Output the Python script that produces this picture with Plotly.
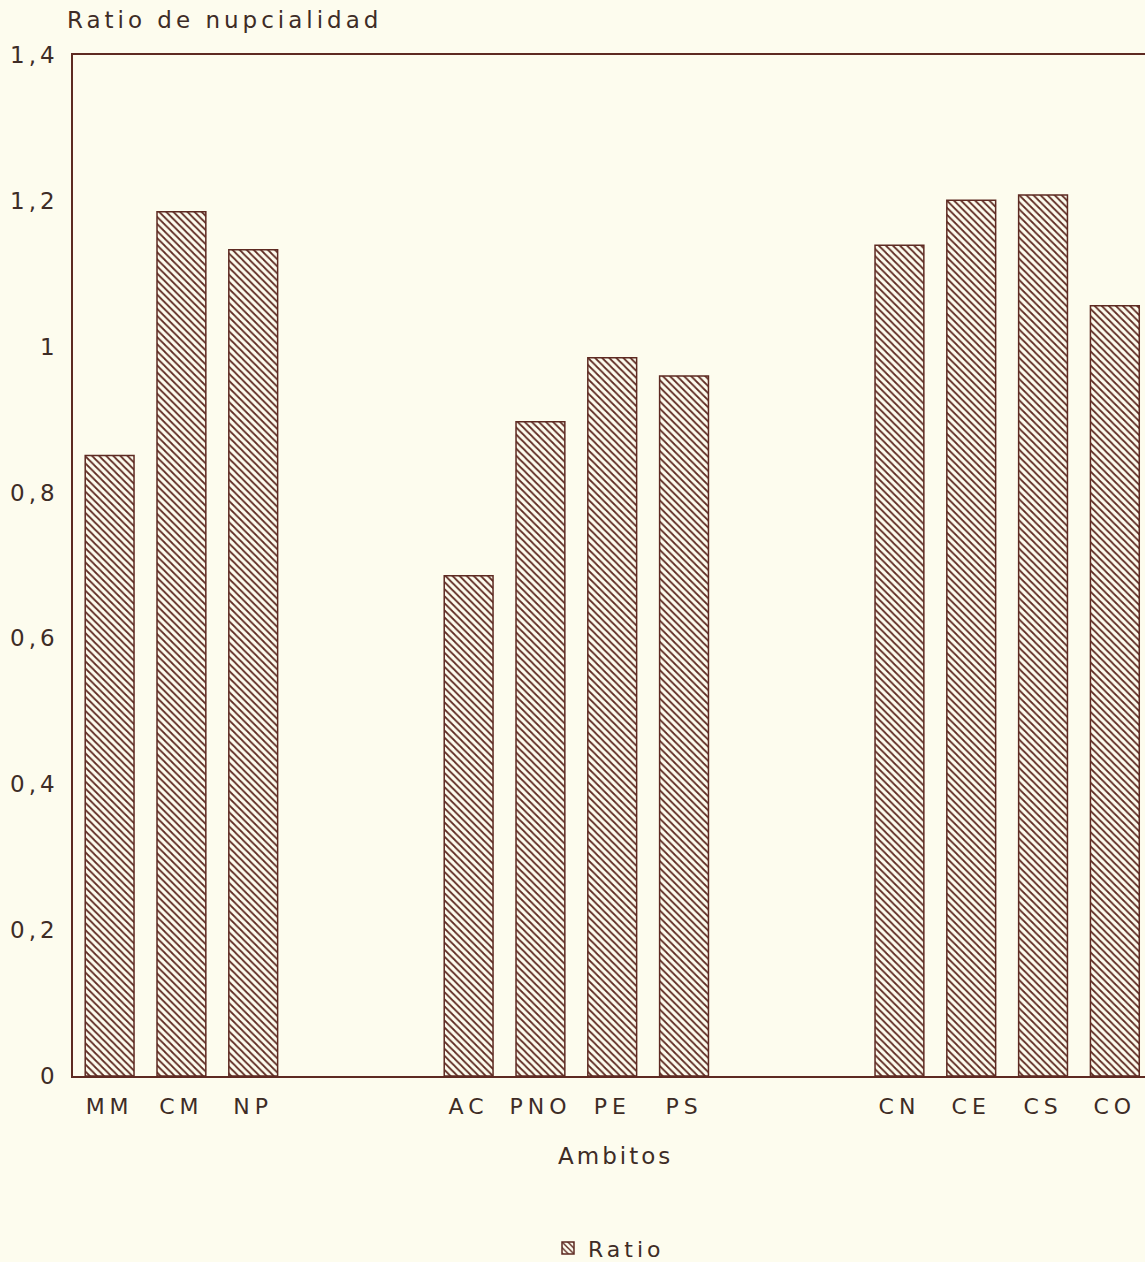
import plotly.graph_objects as go

# ambitos, grouped as in the original figure
grupo_1 = ["MM", "CM", "NP"]
grupo_2 = ["AC", "PNO", "PE", "PS"]
grupo_3 = ["CN", "CE", "CS", "CO"]

ratio_1 = [0.851, 1.185, 1.133]
ratio_2 = [0.686, 0.897, 0.985, 0.960]
ratio_3 = [1.139, 1.201, 1.208, 1.056]

y_ticks = [0, 0.2, 0.4, 0.6, 0.8, 1, 1.2, 1.4]
y_labels = ["0", "0,2", "0,4", "0,6", "0,8", "1", "1,2", "1,4"]

# two empty slots between groups
gap = 2
ambitos, ratios, pos = [], [], []
x = 0
for grupo, vals in [(grupo_1, ratio_1), (grupo_2, ratio_2), (grupo_3, ratio_3)]:
    for a, v in zip(grupo, vals):
        ambitos.append(a)
        ratios.append(v)
        pos.append(x)
        x += 1
    x += gap

brown = "#5e2a22"
cream = "#fdfcee"
txt = "#3e2c26"
font = "DejaVu Sans"


def spaced(s, px=3):
    return '<span style="letter-spacing:%dpx">%s</span>' % (px, s)


fig = go.Figure()
fig.add_trace(go.Bar(
    x=pos, y=ratios, name=spaced("Ratio", 4), width=0.68,
    marker=dict(color=cream, line=dict(color=brown, width=1.5),
                pattern=dict(shape="\\", fgcolor=brown, bgcolor=cream,
                             size=5, solidity=0.35, fillmode="replace")),
))

fig.update_layout(
    width=1145, height=1262,
    margin=dict(l=73, r=0, t=55, b=186),
    paper_bgcolor=cream, plot_bgcolor=cream,
    font=dict(family=font, size=21, color=txt),
    showlegend=True,
    legend=dict(orientation="h", x=0.5, xanchor="center",
                yref="container", y=0.011, yanchor="middle",
                font=dict(size=22, color=txt), bgcolor="rgba(0,0,0,0)"),
)
fig.update_xaxes(
    range=[-0.51, 14.42], tickvals=pos, ticktext=[spaced(a, 5) for a in ambitos],
    showline=True, linecolor=brown, linewidth=1.5, mirror=True,
    showgrid=False, zeroline=False, ticks="", ticklabelstandoff=10,
    tickfont=dict(size=22, color=txt),
)
fig.update_yaxes(
    range=[0, 1.4], tickvals=y_ticks, ticktext=[spaced(t, 4) for t in y_labels],
    showline=True, linecolor=brown, linewidth=1.5, mirror=False,
    showgrid=False, zeroline=False, ticks="", ticklabelstandoff=8,
    tickfont=dict(size=23, color=txt),
)

fig.add_annotation(text=spaced("Ratio de nupcialidad", 4), xref="paper", yref="paper",
                   x=-0.0075, y=1.034, xanchor="left", yanchor="middle",
                   showarrow=False, font=dict(size=23, color=txt))
fig.add_annotation(text=spaced("Ambitos", 3), xref="paper", yref="paper",
                   x=0.5065, y=-0.078, xanchor="center", yanchor="middle",
                   showarrow=False, font=dict(size=23, color=txt))

fig.write_html("out.html", config={"displayModeBar": False},
               post_script="document.body.style.margin='0';document.body.style.background='%s';" % cream)
